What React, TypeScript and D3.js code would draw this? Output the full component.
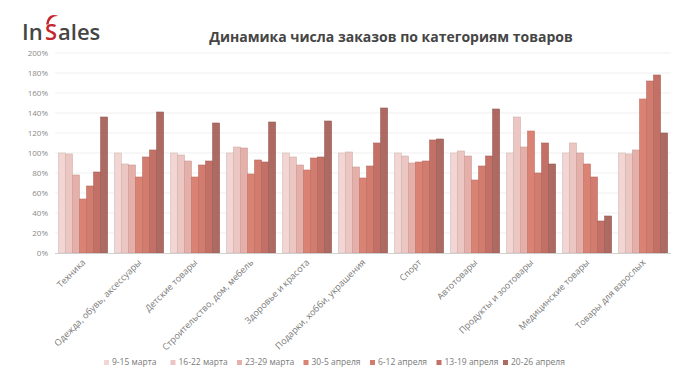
import React from "react";
import * as d3 from "d3";

const categories = [
  "Техника",
  "Одежда, обувь, аксессуары",
  "Детские товары",
  "Строительство, дом, мебель",
  "Здоровье и красота",
  "Подарки, хобби, украшения",
  "Спорт",
  "Автотовары",
  "Продукты и зоотовары",
  "Медицинские товары",
  "Товары для взрослых",
];

const periods = [
  "9-15 марта",
  "16-22 марта",
  "23-29 марта",
  "30-5 апреля",
  "6-12 апреля",
  "13-19 апреля",
  "20-26 апреля",
];

// values in % of base week, one array per category (7 weeks each)
const tehnika = [100, 99, 78, 54, 67, 81, 136];
const odezhda = [100, 89, 88, 76, 96, 103, 141];
const detskie = [100, 98, 92, 76, 88, 92, 130];
const stroitelstvo = [100, 106, 105, 79, 93, 91, 131];
const zdorovie = [100, 96, 88, 83, 95, 96, 132];
const podarki = [100, 101, 86, 75, 87, 110, 145];
const sport = [100, 97, 90, 91, 92, 113, 114];
const avto = [100, 102, 97, 73, 87, 97, 144];
const produkty = [100, 136, 106, 122, 80, 110, 89];
const medicina = [100, 110, 100, 89, 76, 32, 37];
const vzroslye = [100, 99, 103, 154, 172, 178, 120];

const values = [
  tehnika, odezhda, detskie, stroitelstvo, zdorovie, podarki,
  sport, avto, produkty, medicina, vzroslye,
];

const yTicks = [0, 20, 40, 60, 80, 100, 120, 140, 160, 180, 200];

const colors = ["#f2d6d3", "#ecc6c2", "#e4b0a9", "#da8273", "#d27c6f", "#c37066", "#ac6a62"];

const W = 700;
const H = 390;
const font = "'Open Sans', 'DejaVu Sans', sans-serif";

const App = () => {
  const x = d3.scaleBand().domain(categories).range([55, 671]).paddingInner(0.12).paddingOuter(0.06);
  const xi = d3.scaleBand().domain(periods).range([0, x.bandwidth()]);
  const y = d3.scaleLinear().domain([0, 200]).range([253, 53]);

  return (
    <svg width={W} height={H} style={{ position: "absolute", left: 0, top: 0, background: "#fff" }}>
      {/* logo */}
      <g fontFamily={font} fontSize="22" fontWeight="600">
        <text x={22} y={40} fill="#454545">In</text>
        <text x={45} y={40} fill="#c4262e">S</text>
        <text x={58} y={40} fill="#454545">ales</text>
        <path d="M46,24.5 Q48,12 58.5,16 Q50,15.5 48.5,24.5 Z" fill="#c4262e" />
      </g>

      <text x={391} y={42} textAnchor="middle" fontFamily={font} fontSize="14" fontWeight="700" fill="#454545">
        Динамика числа заказов по категориям товаров
      </text>

      {/* grid */}
      {yTicks.map(t => (
        <g key={t}>
          {t > 0 && <line x1={55} x2={671} y1={y(t)} y2={y(t)} stroke="#efefef" strokeWidth={1} />}
          <text x={48} y={y(t) + 3} textAnchor="end" fontFamily={font} fontSize="8" fill="#8a8a8a">
            {t}%
          </text>
        </g>
      ))}

      {/* bars */}
      {categories.map((c, ci) => (
        <g key={c} transform={`translate(${x(c)},0)`}>
          {values[ci].map((v, i) => (
            <rect
              key={i}
              x={xi(periods[i])}
              y={y(v)}
              width={xi.bandwidth()}
              height={y(0) - y(v)}
              fill={colors[i]}
              stroke={d3.color(colors[i]).darker(0.35).toString()}
              strokeWidth={0.6}
            />
          ))}
        </g>
      ))}

      <line x1={55} x2={671} y1={253.5} y2={253.5} stroke="#cfcfcf" strokeWidth={1} />

      {/* category labels */}
      {categories.map(c => (
        <text
          key={c}
          transform={`translate(${x(c) + x.bandwidth() / 2 + 3},263) rotate(-45)`}
          textAnchor="end"
          fontFamily={font}
          fontSize="9"
          fill="#7a7a7a"
        >
          {c}
        </text>
      ))}

      {/* legend */}
      {periods.map((p, i) => (
        <g key={p} transform={`translate(${104 + i * 66.5},365)`}>
          <rect x={0} y={-5} width={5} height={5} fill={colors[i]} />
          <text x={8} y={0} fontFamily={font} fontSize="8.5" fill="#7a7a7a">
            {p}
          </text>
        </g>
      ))}
    </svg>
  );
};

export default App;
